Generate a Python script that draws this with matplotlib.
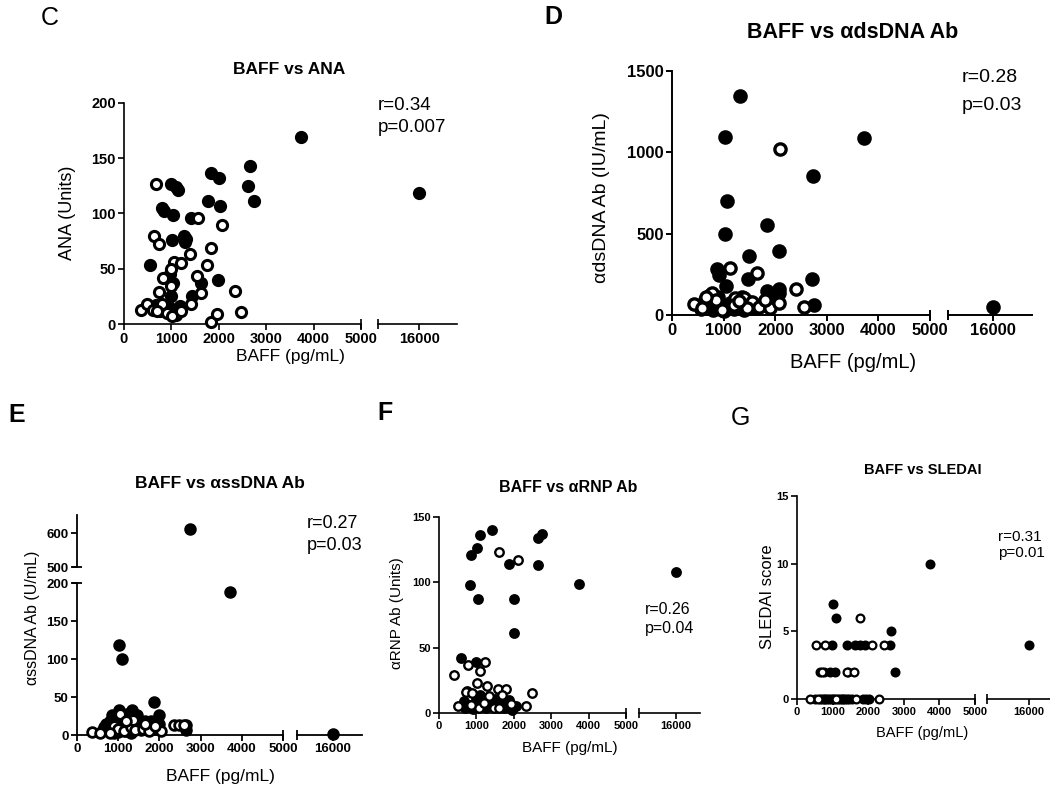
import matplotlib
matplotlib.use("Agg")
import matplotlib.pyplot as plt
from matplotlib.ticker import FixedLocator

W, H = 1050, 796
plt.rcParams['font.family'] = ['Liberation Sans', 'DejaVu Sans']

# ---- data (BAFF pg/mL vs marker) ----
# panel C: BAFF vs ANA
c_fill_x = [3730, 16000, 2650, 2615, 2742, 1842, 2004, 984, 1090, 1139, 1765, 2018, 794, 844, 1040,
            1406, 1019, 1265, 1300, 1287, 548, 1982, 970, 1040, 984, 1441, 1631, 668, 844, 1125, 1090,
            760, 940, 1180]
c_fill_y = [169, 119, 143, 125, 111, 137, 132, 127, 124, 121, 111, 107, 105, 102, 99,
            96, 76, 80, 77, 74, 53, 40, 45, 37, 25, 25, 37, 17, 16, 13, 8,
            12, 15, 16]
c_open_x = [668, 633, 738, 2074, 1561, 1842, 1392, 1758, 1054, 1195, 984, 830, 1532, 1617, 738,
            984, 2334, 1406, 2460, 1842, 1968, 351, 492, 619, 914, 1019, 808, 1200, 700]
c_open_y = [127, 80, 72, 90, 96, 69, 63, 53, 56, 55, 50, 42, 43, 28, 29,
            34, 30, 18, 11, 2, 9, 13, 18, 13, 10, 7, 18, 12, 12]

# panel D: BAFF vs anti-dsDNA
d_fill_x = [1310, 1019, 3716, 2742, 1065, 1839, 1019, 2080, 1499, 872, 904, 2713, 1473, 1047, 1841,
            2067, 2067, 2745, 16000, 646, 743, 840, 969, 1130, 1292, 1486, 1744, 1938, 700, 1100,
            560, 800, 1000, 1200, 1400, 1620, 900, 1350]
d_fill_y = [1347, 1093, 1087, 852, 703, 555, 499, 396, 364, 280, 245, 221, 219, 180, 150,
            158, 133, 62, 47, 92, 123, 82, 62, 72, 51, 82, 62, 82, 60, 40,
            35, 30, 25, 35, 30, 40, 110, 110]
d_open_x = [2084, 1130, 1647, 2403, 2552, 420, 775, 1227, 1389, 1550, 1680, 1906, 2067, 581, 969,
            860, 1200, 1800, 650, 1450, 1300]
d_open_y = [1021, 287, 256, 158, 51, 68, 133, 103, 103, 82, 51, 41, 72, 41, 31,
            90, 60, 90, 110, 40, 85]

# panel E: BAFF vs anti-ssDNA
e_fill_x = [2748, 3724, 1016, 1089, 1870, 16000, 1016, 1341, 854, 1220, 1463, 1992, 2642, 2650,
            700, 800, 900, 950, 1100, 1250, 1500, 1700, 1800, 600, 1200, 1900, 750,
            650, 850, 1000, 1150, 1300, 1400, 1550, 1650, 2000, 900, 1100, 1350]
e_fill_y = [613, 188, 118, 100, 44, 1, 33, 33, 26, 28, 26, 26, 6, 13,
            15, 18, 20, 10, 15, 12, 14, 10, 18, 5, 5, 8, 8,
            10, 6, 4, 8, 3, 16, 6, 18, 14, 2, 22, 20]
e_open_x = [366, 2358, 2480, 2602, 1050, 900, 1000, 1150, 1300, 1400, 1600, 1750, 2050, 550,
            800, 1350, 1650, 1900, 1200]
e_open_y = [4, 13, 13, 13, 28, 12, 8, 5, 10, 6, 8, 5, 5, 3,
            3, 20, 15, 12, 18]

# panel F: BAFF vs anti-RNP
f_fill_x = [1426, 1096, 1025, 856, 829, 1052, 2745, 2656, 2656, 1872, 2005, 2005, 3734, 16000,
            579, 998, 668, 802, 980, 1158, 1381, 1648, 1871, 2049, 750,
            900, 1100, 1250, 1500, 1750, 700, 1300, 1950]
f_fill_y = [140, 136, 126, 121, 98, 87, 137, 134, 113, 114, 87, 61, 99, 108,
            42, 39, 9, 6, 11, 5, 7, 9, 10, 5, 17,
            3, 14, 4, 11, 4, 4, 9, 2]
f_open_x = [1604, 2121, 784, 1230, 1087, 401, 1025, 1292, 731, 1586, 1782, 2477, 2334, 517,
            891, 1336, 1470, 1693, 1916, 1604, 1069, 1200, 850]
f_open_y = [123, 117, 37, 39, 32, 29, 23, 21, 16, 18, 18, 15, 5, 5,
            15, 13, 4, 14, 7, 4, 4, 8, 6]

# panel G: BAFF vs SLEDAI
g_fill_x = [3730, 16000, 1003, 1097, 2652, 2745, 2623, 984, 1405, 1640, 1780, 1920,
            656, 750, 937, 1077, 1434, 515, 650, 750, 850, 950, 1050, 1150, 1250,
            1350, 1450, 1550, 1850, 1950, 2015, 700, 800, 900, 1000, 1200, 1300, 1400]
g_fill_y = [10, 4, 7, 6, 5, 2, 4, 4, 4, 4, 4, 4,
            2, 2, 2, 2, 2, 0, 0, 0, 0, 0, 0, 0, 0,
            0, 0, 0, 0, 0, 0, 0, 0, 0, 0, 0, 0, 0]
g_open_x = [1781, 543, 796, 2108, 2455, 1405, 1593, 703, 356, 2296, 1650, 600, 1100]
g_open_y = [6, 4, 4, 4, 4, 2, 2, 2, 0, 0, 0, 0, 0]

baff_ticks = [0, 1000, 2000, 3000, 4000, 5000]

fig = plt.figure(figsize=(W / 100, H / 100), dpi=100)


def px_axes(x0, x1, yb, yt):
    ax = fig.add_axes([x0 / W, 1 - yb / H, (x1 - x0) / W, (yb - yt) / H])
    ax.patch.set_alpha(0)
    return ax


def ticks(axis, vals, fs):
    labels = [str(v) for v in vals]
    if axis.axis_name == 'x':
        axis.axes.set_xticks(vals, labels, fontweight='bold', fontsize=fs)
    else:
        axis.axes.set_yticks(vals, labels, fontweight='bold', fontsize=fs)


def cap(axis, where, lw, length=7):
    # break / end bar of a GraphPad style segmented axis
    axis.set_minor_locator(FixedLocator([where]))
    axis.remove_overlapping_locs = False
    axis.axes.tick_params(axis=axis.axis_name, which='minor', direction='inout',
                          length=length, width=lw)


def add_points(axes, xs, ys, ms, mew, filled):
    for ax in axes:
        x0, x1 = ax.get_xlim()
        y0, y1 = ax.get_ylim()
        sel = [(x, y) for x, y in zip(xs, ys) if x0 <= x <= x1 and y0 <= y <= y1]
        if not sel:
            continue
        px, py = zip(*sel)
        ax.plot(px, py, 'o', ls='none', ms=ms - mew, mew=mew, mec='black',
                mfc='black' if filled else 'white', clip_on=False, zorder=3)


def panel(lx, rx, yb, yt, ylim, yticks, rlim, fs, lw, upper=None):
    ax = px_axes(lx[0], lx[1], yb, yt)
    ax.set_xlim(0, 5000)
    ax.set_ylim(*ylim)
    for s in ['top', 'right']:
        ax.spines[s].set_visible(False)
    for s in ['left', 'bottom']:
        ax.spines[s].set_linewidth(lw)
    ticks(ax.xaxis, baff_ticks, fs)
    ticks(ax.yaxis, yticks, fs)
    ax.tick_params(which='major', direction='out', length=4, width=lw, pad=2)
    cap(ax.xaxis, 5000, lw)

    rax = px_axes(rx[0], rx[1], yb, yt)
    rax.set_xlim(*rlim)
    rax.set_ylim(*ylim)
    for s in ['top', 'right', 'left']:
        rax.spines[s].set_visible(False)
    rax.spines['bottom'].set_linewidth(lw)
    rax.set_yticks([])
    ticks(rax.xaxis, [16000], fs)
    rax.tick_params(which='major', direction='out', length=4, width=lw, pad=2)
    cap(rax.xaxis, rlim[0], lw)
    axes = [ax, rax]

    if upper is not None:
        uyb, uyt, ulim, uticks = upper
        cap(ax.yaxis, ylim[1], lw)
        uax = px_axes(lx[0], lx[1], uyb, uyt)
        uax.set_xlim(0, 5000)
        uax.set_ylim(*ulim)
        for s in ['top', 'right', 'bottom']:
            uax.spines[s].set_visible(False)
        uax.spines['left'].set_linewidth(lw)
        uax.set_xticks([])
        ticks(uax.yaxis, uticks, fs)
        uax.tick_params(which='major', direction='out', length=4, width=lw, pad=2)
        cap(uax.yaxis, ulim[0], lw)
        axes.append(uax)
    return axes


def label_text(x, y, s, size, weight='normal', rot=0, ha='center'):
    fig.text(x / W, 1 - y / H, s, fontsize=size, fontweight=weight, rotation=rot,
             ha=ha, va='center')


# ---- C ----
axs = panel((124, 361), (378, 457), 324, 103, (0, 200), [0, 50, 100, 150, 200],
            (15116, 16816), 10.5, 1.2)
add_points(axs, c_fill_x, c_fill_y, 9.5, 2.2, True)
add_points(axs, c_open_x, c_open_y, 9.5, 2.2, False)
label_text(50, 18, 'C', 18)
label_text(289, 69, 'BAFF vs ANA', 12.5, 'bold')
label_text(290, 357, 'BAFF (pg/mL)', 12.5)
label_text(68, 213, 'ANA (Units)', 13, rot=90)
label_text(378, 105, 'r=0.34', 13.5, ha='left')
label_text(378, 128, 'p=0.007', 13.5, ha='left')

# ---- D ----
axs = panel((672, 930), (948, 1032), 315, 71, (0, 1500), [0, 500, 1000, 1500],
            (15082, 16782), 12, 1.4)
add_points(axs, d_fill_x, d_fill_y, 10.5, 2.4, True)
add_points(axs, d_open_x, d_open_y, 10.5, 2.4, False)
label_text(553, 17, 'D', 18, 'bold')
label_text(853, 33, 'BAFF vs \u03b1dsDNA Ab', 15.5, 'bold')
label_text(853, 363, 'BAFF (pg/mL)', 14.5)
label_text(602, 198, '\u03b1dsDNA Ab (IU/mL)', 14, rot=90)
label_text(962, 77, 'r=0.28', 14, ha='left')
label_text(962, 105, 'p=0.03', 14, ha='left')

# ---- E ----
axs = panel((77, 283), (297, 362), 735, 583, (0, 200), [0, 50, 100, 150, 200],
            (15065, 16765), 9.5, 1.3, upper=(567, 515, (500, 653), [500, 600]))
add_points(axs, e_fill_x, e_fill_y, 9.0, 2.0, True)
add_points(axs, e_open_x, e_open_y, 9.0, 2.0, False)
label_text(17, 415, 'E', 18, 'bold')
label_text(220, 483, 'BAFF vs \u03b1ssDNA Ab', 12.5, 'bold')
label_text(220, 777, 'BAFF (pg/mL)', 12.5)
label_text(33, 618, '\u03b1ssDNA Ab (U/mL)', 11.5, rot=90)
label_text(307, 523, 'r=0.27', 13, ha='left')
label_text(307, 545, 'p=0.03', 13, ha='left')

# ---- F ----
axs = panel((439, 626), (639, 700), 713, 517, (0, 150), [0, 50, 100, 150],
            (14963, 16663), 8, 1.2)
add_points(axs, f_fill_x, f_fill_y, 7.8, 1.7, True)
add_points(axs, f_open_x, f_open_y, 7.8, 1.7, False)
label_text(385, 413, 'F', 18, 'bold')
label_text(568, 488, 'BAFF vs \u03b1RNP Ab', 11.5, 'bold')
label_text(570, 748, 'BAFF (pg/mL)', 11)
label_text(397, 613, '\u03b1RNP Ab (Units)', 11, rot=90)
label_text(645, 610, 'r=0.26', 11.5, ha='left')
label_text(645, 628, 'p=0.04', 11.5, ha='left')

# ---- G ----
axs = panel((797, 975), (987, 1050), 699, 496, (0, 15), [0, 5, 10, 15],
            (14861, 16561), 8, 1.2)
add_points(axs, g_fill_x, g_fill_y, 7.2, 1.6, True)
add_points(axs, g_open_x, g_open_y, 7.2, 1.6, False)
label_text(740, 418, 'G', 18)
label_text(923, 470, 'BAFF vs SLEDAI', 10.5, 'bold')
label_text(922, 733, 'BAFF (pg/mL)', 10.5)
label_text(767, 597, 'SLEDAI score', 12, rot=90)
label_text(998, 537, 'r=0.31', 11, ha='left')
label_text(998, 553, 'p=0.01', 11, ha='left')

fig.savefig('out.png', dpi=100)
